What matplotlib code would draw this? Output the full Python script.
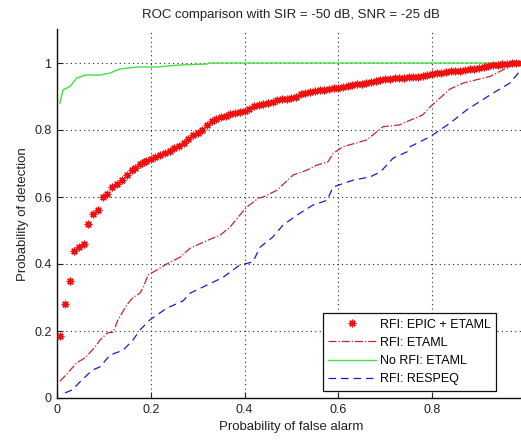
import matplotlib
matplotlib.use("Agg")
import matplotlib.pyplot as plt

plt.rcParams['font.family'] = ['Liberation Sans', 'DejaVu Sans']

title = "ROC comparison with SIR = -50 dB, SNR = -25 dB"
xlabel = "Probability of false alarm"
ylabel = "Probability of detection"
labels = ["RFI: EPIC + ETAML", "RFI: ETAML", "No RFI: ETAML", "RFI: RESPEQ"]
xticks = [0, 0.2, 0.4, 0.6, 0.8]
xticklabels = ["0", "0.2", "0.4", "0.6", "0.8"]
yticks = [0, 0.2, 0.4, 0.6, 0.8, 1.0]
yticklabels = ["0", "0.2", "0.4", "0.6", "0.8", "1"]

epic_x = [0.006, 0.017, 0.028, 0.036, 0.047, 0.058, 0.066, 0.077, 0.088, 0.098,
          0.106, 0.118, 0.128, 0.138, 0.149, 0.160, 0.166, 0.177, 0.185, 0.19,
          0.20, 0.21, 0.22, 0.23, 0.24, 0.25, 0.26, 0.27, 0.28, 0.29,
          0.30, 0.31, 0.32, 0.33, 0.34, 0.35, 0.36, 0.37, 0.38, 0.39,
          0.40, 0.41, 0.42, 0.43, 0.44, 0.45, 0.46, 0.47, 0.48, 0.49,
          0.50, 0.51, 0.52, 0.53, 0.54, 0.55, 0.56, 0.57, 0.58, 0.59,
          0.60, 0.61, 0.62, 0.63, 0.64, 0.65, 0.66, 0.67, 0.68, 0.69,
          0.70, 0.71, 0.72, 0.73, 0.74, 0.75, 0.76, 0.77, 0.78, 0.79,
          0.80, 0.81, 0.82, 0.83, 0.84, 0.85, 0.86, 0.87, 0.88, 0.89,
          0.90, 0.91, 0.92, 0.93, 0.94, 0.95, 0.96, 0.97, 0.98, 0.99]
epic_y = [0.185, 0.28, 0.35, 0.44, 0.45, 0.46, 0.52, 0.55, 0.56, 0.60,
          0.61, 0.63, 0.64, 0.65, 0.666, 0.68, 0.686, 0.70, 0.705, 0.708,
          0.712, 0.718, 0.725, 0.73, 0.737, 0.745, 0.752, 0.76, 0.772, 0.785,
          0.792, 0.80, 0.815, 0.826, 0.832, 0.838, 0.843, 0.847, 0.850, 0.853,
          0.858, 0.864, 0.872, 0.876, 0.878, 0.880, 0.884, 0.889, 0.892, 0.894,
          0.896, 0.900, 0.906, 0.911, 0.913, 0.915, 0.918, 0.920, 0.923, 0.925,
          0.926, 0.928, 0.930, 0.933, 0.936, 0.938, 0.941, 0.944, 0.947, 0.949,
          0.951, 0.953, 0.954, 0.955, 0.956, 0.957, 0.958, 0.958, 0.961, 0.964,
          0.967, 0.969, 0.971, 0.973, 0.975, 0.976, 0.977, 0.979, 0.981, 0.983,
          0.985, 0.988, 0.991, 0.993, 0.995, 0.997, 0.998, 0.999, 1.0, 1.0]

etaml_x = [0.006, 0.02, 0.042, 0.06, 0.08, 0.092, 0.107, 0.12, 0.13, 0.149,
           0.162, 0.177, 0.184, 0.194, 0.213, 0.234, 0.262, 0.284, 0.32, 0.348,
           0.369, 0.39, 0.405, 0.43, 0.44, 0.469, 0.504, 0.533, 0.554, 0.578,
           0.589, 0.61, 0.66, 0.696, 0.73, 0.78, 0.796, 0.838, 0.866, 0.924,
           0.966, 0.99]
etaml_y = [0.05, 0.07, 0.105, 0.12, 0.15, 0.173, 0.194, 0.197, 0.233, 0.278,
           0.30, 0.313, 0.33, 0.367, 0.382, 0.40, 0.42, 0.447, 0.47, 0.486,
           0.51, 0.546, 0.57, 0.597, 0.60, 0.62, 0.666, 0.68, 0.695, 0.705,
           0.73, 0.75, 0.77, 0.81, 0.815, 0.845, 0.869, 0.922, 0.94, 0.96,
           0.99, 1.0]

norfi_x = [0.006, 0.013, 0.028, 0.042, 0.06, 0.092, 0.113, 0.134, 0.17, 0.213,
           0.262, 0.32, 0.326, 1.0]
norfi_y = [0.88, 0.92, 0.93, 0.955, 0.964, 0.964, 0.97, 0.982, 0.988, 0.988,
           0.994, 0.997, 1.0, 1.0]

respeq_x = [0.017, 0.032, 0.049, 0.075, 0.092, 0.113, 0.141, 0.162, 0.177, 0.198,
            0.234, 0.269, 0.284, 0.32, 0.354, 0.39, 0.418, 0.433, 0.46, 0.482,
            0.512, 0.546, 0.576, 0.589, 0.631, 0.668, 0.69, 0.717, 0.747, 0.753,
            0.796, 0.838, 0.874, 0.93, 0.966, 0.99]
respeq_y = [0.015, 0.024, 0.048, 0.083, 0.093, 0.128, 0.143, 0.173, 0.203, 0.233,
            0.268, 0.29, 0.313, 0.337, 0.36, 0.397, 0.406, 0.45, 0.48, 0.516,
            0.546, 0.576, 0.59, 0.63, 0.65, 0.66, 0.675, 0.716, 0.735, 0.75,
            0.78, 0.82, 0.86, 0.91, 0.94, 0.98]

fig = plt.figure(figsize=(5.21, 4.42), dpi=100)
ax = fig.add_axes([57 / 521, 44 / 442, 468.75 / 521, 368.5 / 442])

ax.plot(epic_x, epic_y, linestyle='none', marker=(8, 2, 0), markersize=5.5,
        markeredgewidth=0.9, color='#f01010', label=labels[0], zorder=3)
ax.plot(etaml_x, etaml_y, linestyle='-.', color='#c0282c', linewidth=0.9,
        label=labels[1], zorder=2)
ax.plot(norfi_x, norfi_y, linestyle='-', color='#44dd44', linewidth=1.0,
        label=labels[2], zorder=2)
ax.plot(respeq_x, respeq_y, linestyle=(0, (6, 4)), color='#1a1acc', linewidth=0.9,
        label=labels[3], zorder=2)

ax.set_xlim(0, 1)
ax.set_ylim(0, 1.1)
ax.set_xticks(xticks)
ax.set_xticklabels(xticklabels)
ax.set_yticks(yticks)
ax.set_yticklabels(yticklabels)
ax.tick_params(direction='in', length=4, labelsize=9, colors='#222222', pad=4)
ax.grid(True, linestyle=(0, (1, 3)), color='#222222', linewidth=0.8)
ax.set_axisbelow(True)
for s in ['top', 'right']:
    ax.spines[s].set_visible(False)
for s in ['left', 'bottom']:
    ax.spines[s].set_linewidth(1.0)
    ax.spines[s].set_color('#111111')

ax.set_title(title, fontsize=9.5, pad=8, color='#222222')
ax.set_xlabel(xlabel, fontsize=9.5, labelpad=4, color='#222222')
ax.set_ylabel(ylabel, fontsize=9.5, labelpad=4, color='#222222')

leg = ax.legend(loc='lower right', bbox_to_anchor=(0.9366, 0.019), fontsize=9,
                fancybox=False, framealpha=1, edgecolor='#111111',
                handlelength=3.8, borderpad=0.45, labelspacing=0.5,
                handletextpad=0.3, borderaxespad=0)
leg.get_frame().set_linewidth(0.9)

fig.savefig("out.png", dpi=100)
